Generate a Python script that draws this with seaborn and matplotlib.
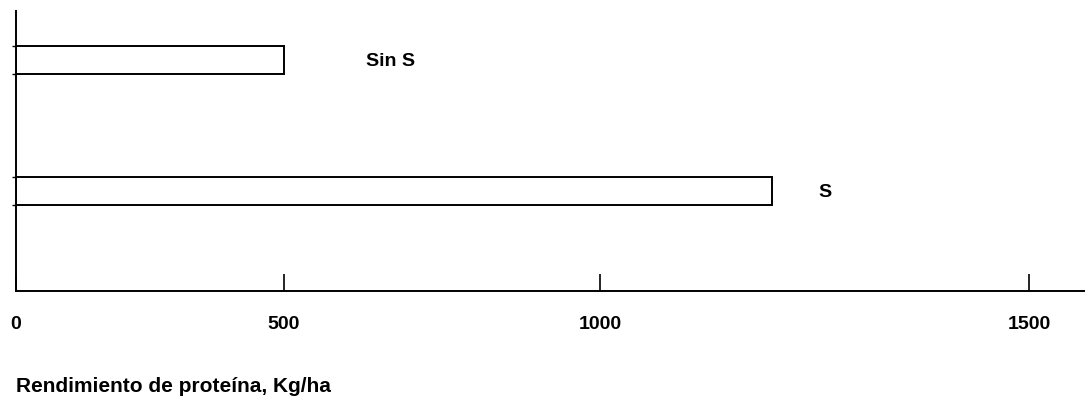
import matplotlib
matplotlib.use('Agg')
import matplotlib.pyplot as plt
import numpy as np
import pandas as pd
import seaborn as sns

# 데이터
categorias = ['Sin S', 'S']
rendimiento = [500, 1200]   # Kg/ha
ticks_x = [0, 500, 1000, 1500]

df = pd.DataFrame({'trat': categorias, 'valor': rendimiento})

sns.set_style('white')
plt.rcParams['font.family'] = ['Liberation Sans', 'DejaVu Sans']
plt.rcParams['text.color'] = 'black'
plt.rcParams['xtick.color'] = 'black'
plt.rcParams['ytick.color'] = 'black'
plt.rcParams['axes.labelcolor'] = 'black'

fig = plt.figure(figsize=(10.85, 4.06), dpi=100)
ax = fig.add_axes([16 / 1085, 1 - 292 / 406, 1 - 16 / 1085, 280 / 406])

bar_h = 0.22
sns.barplot(data=df, x='valor', y='trat', orient='h', width=bar_h,
            color='white', edgecolor='black', linewidth=1.4, ax=ax)

# el eje del original no es del todo lineal (escaneo): escala por tramos
d_pts = np.array([0, 500, 1000, 1500], dtype=float)
p_pts = np.array([0, 268, 584, 1013], dtype=float)

def _pw(x, a, b):
    x = np.asarray(x, dtype=float)
    y = np.interp(x, a, b)
    lo = x < a[0]
    hi = x > a[-1]
    y = np.where(lo, b[0] + (x - a[0]) * (b[1] - b[0]) / (a[1] - a[0]), y)
    y = np.where(hi, b[-1] + (x - a[-1]) * (b[-1] - b[-2]) / (a[-1] - a[-2]), y)
    return y

ax.set_xscale('function', functions=(lambda x: _pw(x, d_pts, p_pts),
                                     lambda y: _pw(y, p_pts, d_pts)))
ax.set_xlim(0, 1565)
ax.set_ylim(1.763, -0.374)

ax.set_xticks(ticks_x)
ax.set_xticklabels([str(t) for t in ticks_x], fontsize=14, fontweight='bold')
ax.tick_params(axis='x', direction='in', length=12, width=1.2, pad=17,
               bottom=True)

# pequeñas marcas en los bordes de las barras
edges = []
for i in range(len(categorias)):
    edges += [i - bar_h / 2, i + bar_h / 2]
ax.set_yticks(edges)
ax.set_yticklabels([])
ax.tick_params(axis='y', direction='out', length=3, width=1, left=True)

# etiquetas a la derecha de las barras
offsets = [82, 47]
for i, (lab, v) in enumerate(zip(categorias, rendimiento)):
    ax.annotate(lab, xy=(v, i), xytext=(offsets[i], 0), textcoords='offset pixels',
                va='center', ha='left', fontsize=14, fontweight='bold')

for s in ['top', 'right']:
    ax.spines[s].set_visible(False)
for s in ['left', 'bottom']:
    ax.spines[s].set_color('black')
    ax.spines[s].set_linewidth(1.4)

ax.set_ylabel('')
ax.set_xlabel('Rendimiento de proteína, Kg/ha', fontsize=15, fontweight='bold',
              loc='left', labelpad=32)

fig.savefig('out.png', dpi=100)
